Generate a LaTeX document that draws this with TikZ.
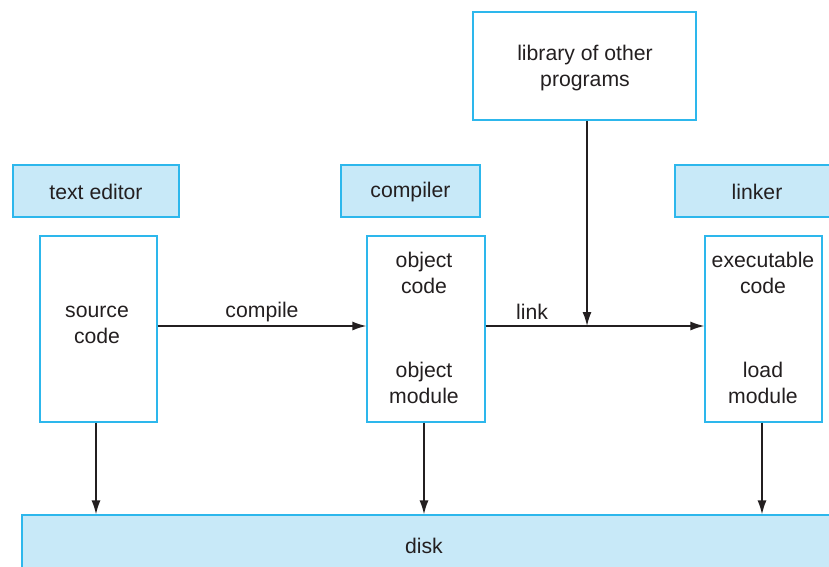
\documentclass[tikz,border=0pt]{standalone}
\usepackage{fontspec}
\setmainfont{Liberation Sans}
\usetikzlibrary{arrows.meta}
\definecolor{edgeblue}{HTML}{2DB7EC}
\definecolor{fillblue}{HTML}{C8E9F8}
\definecolor{ink}{HTML}{231F20}
\tikzset{
  txt/.style={font=\fontsize{21.2}{26}\selectfont, text=ink, align=center, inner sep=0pt},
  toolbox/.style={draw=edgeblue, fill=fillblue, line width=1.2pt, inner sep=0pt},
  filebox/.style={draw=edgeblue, fill=white, line width=1.2pt, inner sep=0pt},
  arr/.style={draw=ink, line width=1.5pt, -{Latex[length=14pt,width=9pt]}},
  ln/.style={draw=ink, line width=1.5pt}
}
\begin{document}
\begin{tikzpicture}[x=1pt,y=-1pt]
\useasboundingbox (0,0) rectangle (829,566);
\clip (0,0) rectangle (829,566);

% program boxes (tools)
\node[toolbox, minimum width=166pt, minimum height=52pt] (editor) at (96,191) {};
\node[txt] (editorlbl) at (96,192) {text editor};
\node[toolbox, minimum width=139pt, minimum height=52pt] (compiler) at (410.5,191) {};
\node[txt] (compilerlbl) at (410.5,192) {compiler};
\node[toolbox, minimum width=160pt, minimum height=52pt] (linker) at (755,191) {};
\node[txt] (linkerlbl) at (757,192) {linker};

% library
\node[filebox, minimum width=223pt, minimum height=108pt] (lib) at (584.5,66) {};
\node[txt] (liblbl) at (585,68) {library of other\\programs};

% file boxes
\node[filebox, minimum width=117pt, minimum height=186pt] (src) at (98.5,329) {};
\node[txt] (srclbl) at (97,325) {source\\code};
\node[filebox, minimum width=118pt, minimum height=186pt] (obj) at (426,329) {};
\node[txt] (objtop) at (424,273) {object\\code};
\node[txt] (objbot) at (424,383) {object\\module};
\node[filebox, minimum width=117pt, minimum height=186pt] (exe) at (763.5,329) {};
\node[txt] (exetop) at (763,273) {executable\\code};
\node[txt] (exebot) at (763,383) {load\\module};

% disk
\node[toolbox, minimum width=820pt, minimum height=60pt] (disk) at (432,545) {};
\node[txt] (disklbl) at (424,546) {disk};

% connectors
\coordinate (rowy) at (0,326);
\coordinate (join) at (587,326);
\draw[arr] (src.east |- rowy) -- (obj.west |- rowy);
\node[txt] (compilelbl) at (262,312) {compile};
\draw[ln] (obj.east |- rowy) -- (join);
\draw[arr] (join) -- (exe.west |- rowy);
\node[txt] (linklbl) at (532,312) {link};
\draw[arr] (lib.south -| join) -- (join);

\draw[arr] (src.south -| 96,0) -- (disk.north -| 96,0);
\draw[arr] (obj.south -| 424,0) -- (disk.north -| 424,0);
\draw[arr] (exe.south -| 762,0) -- (disk.north -| 762,0);
\end{tikzpicture}
\end{document}
